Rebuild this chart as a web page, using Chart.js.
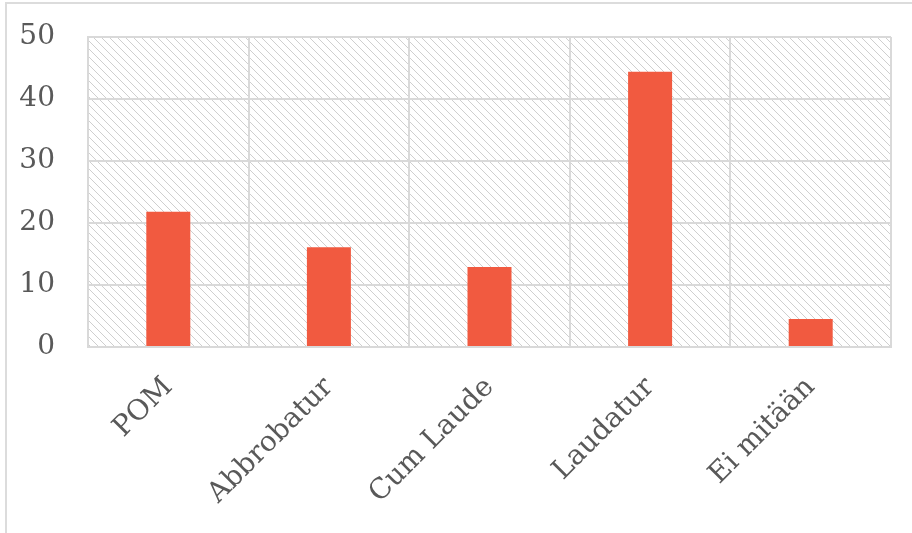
<!DOCTYPE html>
<html><head><meta charset="utf-8">
<script src="https://cdn.jsdelivr.net/npm/chart.js@4/dist/chart.umd.min.js"></script>
<style>
html,body{margin:0;padding:0;background:#fff;overflow:hidden;}
#frame{position:absolute;left:5px;top:2px;width:1000px;height:700px;border:2px solid #dcdcdc;box-sizing:border-box;}
#wrap{position:absolute;left:0;top:0;width:912px;height:533px;}
</style></head>
<body>
<div id="frame"></div>
<div id="wrap"><canvas id="c" width="912" height="533"></canvas></div>
<script>
const categories = ["POM", "Abbrobatur", "Cum Laude", "Laudatur", "Ei mitään"];
const values = [21.8, 16.1, 12.9, 44.4, 4.5];
const yTicks = [0, 10, 20, 30, 40, 50];

function makePattern(){
  const n = 8;
  const t = document.createElement('canvas');
  t.width = n; t.height = n;
  const g = t.getContext('2d');
  g.fillStyle = '#ffffff'; g.fillRect(0,0,n,n);
  g.fillStyle = '#cfcfcf';
  for (let i = 0; i < n; i++) g.fillRect(i, i, 1, 1);
  return t;
}
const hatch = {
  id:'hatch',
  beforeDraw(chart){
    const {ctx, chartArea:a} = chart;
    ctx.save();
    ctx.fillStyle = ctx.createPattern(makePattern(),'repeat');
    ctx.fillRect(a.left, a.top, a.right-a.left, a.bottom-a.top);
    ctx.restore();
  }
};
const font = {family:'"DejaVu Serif", serif', size:28};
new Chart(document.getElementById('c'), {
  type:'bar',
  data:{labels:categories, datasets:[{data:values, backgroundColor:'#F15A40', borderWidth:0, categoryPercentage:1, barPercentage:0.274}]},
  options:{
    responsive:false, animation:false, events:[],
    layout:{padding:{left:0,right:21,top:37,bottom:0}},
    plugins:{legend:{display:false}, tooltip:{enabled:false}, title:{display:false}},
    scales:{
      x:{
        grid:{color:'#d9d9d9', lineWidth:2, drawTicks:false},
        border:{color:'#d9d9d9', width:2},
        ticks:{color:'#595959', font:font, minRotation:45, maxRotation:45, padding:24, autoSkip:false},
        afterFit(s){ s.height = 186; s.paddingLeft = 0; s.paddingRight = 0; }
      },
      y:{
        min:0, max:50,
        afterBuildTicks(s){ s.ticks = yTicks.map(v=>({value:v})); },
        grid:{color:'#d9d9d9', lineWidth:2, drawTicks:false},
        border:{color:'#d9d9d9', width:2},
        ticks:{color:'#595959', font:font, padding:33},
        afterFit(s){ s.width = 88; s.paddingTop = 0; s.paddingBottom = 0; }
      }
    }
  },
  plugins:[hatch]
});
</script>
</body></html>
